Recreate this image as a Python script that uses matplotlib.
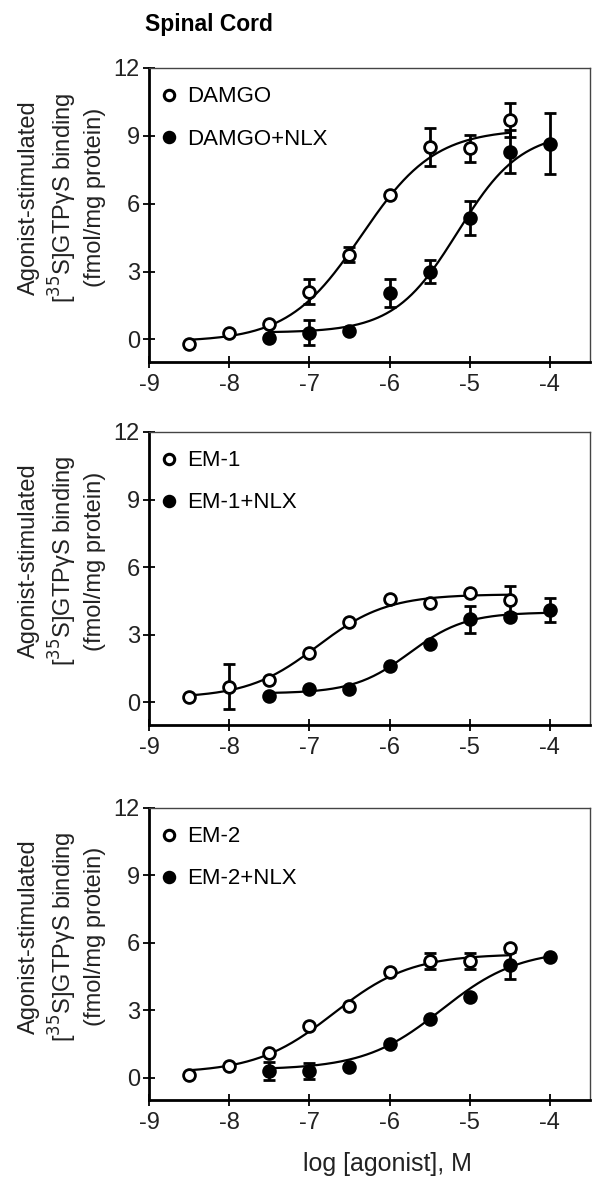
import numpy as np
import matplotlib
matplotlib.use("Agg")
import matplotlib.pyplot as plt
from matplotlib.lines import Line2D

plt.rcParams['font.family'] = ['Liberation Sans', 'DejaVu Sans']

# ---------------- data ----------------
title = "Spinal Cord"
x_label = "log [agonist], M"
y_label = "Agonist-stimulated\n[$^{35}$S]GTP\u03b3S binding\n(fmol/mg protein)"
x_ticks = [-9, -8, -7, -6, -5, -4]
y_ticks = [0, 3, 6, 9, 12]

log_conc_agonist = [-8.5, -8.0, -7.5, -7.0, -6.5, -6.0, -5.5, -5.0, -4.5]
log_conc_nlx = [-7.5, -7.0, -6.5, -6.0, -5.5, -5.0, -4.5, -4.0]

labels_agonist = ["DAMGO", "EM-1", "EM-2"]
labels_nlx = ["DAMGO+NLX", "EM-1+NLX", "EM-2+NLX"]

damgo = [-0.2, 0.3, 0.7, 2.1, 3.75, 6.4, 8.5, 8.45, 9.7]
damgo_err = [0, 0, 0, 0.55, 0.35, 0, 0.85, 0.6, 0.75]
damgo_nlx = [0.05, 0.3, 0.35, 2.05, 3.0, 5.35, 8.3, 8.65]
damgo_nlx_err = [0, 0.55, 0, 0.6, 0.5, 0.75, 0.95, 1.35]

em1 = [0.25, 0.7, 1.0, 2.2, 3.55, 4.6, 4.4, 4.85, 4.55]
em1_err = [0, 1.0, 0, 0, 0, 0, 0, 0, 0.6]
em1_nlx = [0.3, 0.6, 0.6, 1.6, 2.6, 3.7, 3.8, 4.1]
em1_nlx_err = [0, 0, 0, 0, 0, 0.6, 0, 0.55]

em2 = [0.1, 0.5, 1.1, 2.3, 3.2, 4.7, 5.2, 5.2, 5.75]
em2_err = [0, 0, 0, 0, 0, 0, 0.35, 0.35, 0]
em2_nlx = [0.3, 0.3, 0.45, 1.5, 2.6, 3.6, 5.0, 5.35]
em2_nlx_err = [0.4, 0.35, 0, 0, 0, 0, 0.6, 0]

# sigmoid fit parameters: bottom, top, logEC50, hill slope
fit_damgo = [-0.1, 9.3, -6.35, 0.95]
fit_damgo_nlx = [0.3, 9.2, -5.15, 1.1]
fit_em1 = [0.2, 4.8, -6.9, 1.0]
fit_em1_nlx = [0.4, 4.0, -5.75, 1.25]
fit_em2 = [0.2, 5.5, -6.7, 0.9]
fit_em2_nlx = [0.35, 5.7, -5.35, 0.9]

panels = [
    (damgo, damgo_err, fit_damgo, damgo_nlx, damgo_nlx_err, fit_damgo_nlx),
    (em1, em1_err, fit_em1, em1_nlx, em1_nlx_err, fit_em1_nlx),
    (em2, em2_err, fit_em2, em2_nlx, em2_nlx_err, fit_em2_nlx),
]


def sigmoid(x, p):
    b, t, ec, h = p
    return b + (t - b) / (1 + 10 ** ((ec - x) * h))


fig = plt.figure(figsize=(6.0, 11.93), dpi=100)
W, H = 600.0, 1193.0
ax_px = [(68, 362), (432, 725), (808, 1100)]
left_px, right_px = 149, 590

for i, ((ya, ea, fa, yn, en, fn), (top, bot)) in enumerate(zip(panels, ax_px)):
    ax = fig.add_axes([left_px / W, 1 - bot / H, (right_px - left_px) / W, (bot - top) / H])
    ax.set_xlim(-9, -3.5)
    ax.set_ylim(-1, 12)

    for xs, ys, es, fp, filled in [(log_conc_agonist, ya, ea, fa, False),
                                   (log_conc_nlx, yn, en, fn, True)]:
        xs = np.asarray(xs, float)
        ys = np.asarray(ys, float)
        es = np.asarray(es, float)
        xc = np.linspace(xs.min(), xs.max(), 200)
        ax.plot(xc, sigmoid(xc, fp), color='black', lw=1.6, zorder=2)
        m = es > 0
        ax.errorbar(xs[m], ys[m], yerr=es[m], fmt='none', ecolor='black',
                    elinewidth=2.0, capsize=4.5, capthick=2.0, zorder=3)
        ax.plot(xs, ys, linestyle='none', marker='o', markersize=8.5,
                markerfacecolor='black' if filled else 'white',
                markeredgecolor='black', markeredgewidth=2.0, zorder=4)

    handles = [
        Line2D([], [], linestyle='none', marker='o', markersize=7.5,
               markerfacecolor='white', markeredgecolor='black', markeredgewidth=2.2),
        Line2D([], [], linestyle='none', marker='o', markersize=7.5,
               markerfacecolor='black', markeredgecolor='black', markeredgewidth=2.2),
    ]
    ax.legend(handles, [labels_agonist[i], labels_nlx[i]], loc='upper left',
              bbox_to_anchor=(0.015, 0.96), frameon=False, fontsize=16,
              handlelength=0.6, handletextpad=0.5, labelspacing=0.95,
              borderaxespad=0.0, borderpad=0.3)

    ax.set_xticks(x_ticks)
    ax.set_yticks(y_ticks)
    ax.tick_params(axis='both', direction='inout', length=9, width=1.3,
                   labelsize=17, colors='black', labelcolor='#222222')
    ax.tick_params(axis='x', pad=4)
    ax.tick_params(axis='y', pad=2)
    ax.set_xticklabels([str(t) for t in x_ticks])
    for s in ['left', 'bottom']:
        ax.spines[s].set_linewidth(2.0)
        ax.spines[s].set_color('black')
    for s in ['top', 'right']:
        ax.spines[s].set_linewidth(1.0)
        ax.spines[s].set_color('#444444')

    ax.set_ylabel(y_label, fontsize=17, linespacing=1.28, color='#222222',
                  multialignment='center')
    ax.yaxis.set_label_coords(-0.097, 0.56)

fig.text(145 / W, 1 - 25 / H, title, fontsize=16.5, fontweight='bold',
         ha='left', va='center')
fig.text(387 / W, 1 - 1164 / H, x_label, fontsize=18, ha='center', va='center',
         color='#222222')

fig.savefig("out.png", dpi=100)
